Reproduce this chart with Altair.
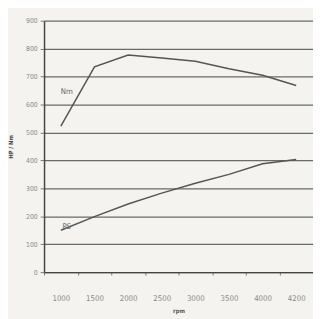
import altair as alt
import pandas as pd

rpm = ["1000", "1500", "2000", "2500", "3000", "3500", "4000", "4200"]
nm = [523, 735, 777, 767, 755, 728, 705, 668]
ps = [150, 199, 244, 283, 318, 350, 388, 403]
y_ticks = [0, 100, 200, 300, 400, 500, 600, 700, 800, 900]

label_text = ["Nm", "PS"]
label_rpm = ["1000", "1000"]
label_val = [645, 162]

df = pd.DataFrame({
    "rpm": rpm * 2,
    "value": nm + ps,
    "series": ["Nm"] * len(rpm) + ["PS"] * len(rpm),
})
lab = pd.DataFrame({"rpm": label_rpm, "value": label_val, "text": label_text})

FONT = "DejaVu Sans Condensed"

xscale = alt.Scale(type="band", domain=rpm, paddingInner=0, paddingOuter=0)
yscale = alt.Scale(domain=[0, 900], nice=False)

xaxis = alt.Axis(title="rpm", labelAngle=0, tickBand="extent", grid=False,
                 tickSize=3, labelPadding=20, labelFontSize=8, labelColor="#8a8a8a",
                 titleFontSize=6, titleColor="#555", titlePadding=5,
                 domainColor="#444", domainWidth=1.5, tickColor="#777",
                 labelFont=FONT, titleFont=FONT, labelOverlap=False)
yaxis = alt.Axis(title="HP / Nm", values=y_ticks, grid=True,
                 gridColor="#6a6a6a", gridWidth=1.3, tickSize=4, tickColor="#777",
                 domainColor="#444", domainWidth=1.5, labelFontSize=7, labelColor="#8a8a8a",
                 labelPadding=3, titleFontSize=6, titleColor="#444", titlePadding=12,
                 labelFont=FONT, titleFont=FONT, labelOverlap=False)

lines = alt.Chart(df).mark_line(color="#555555", strokeWidth=1.5).encode(
    x=alt.X("rpm:O", scale=xscale, bandPosition=0.5, axis=xaxis),
    y=alt.Y("value:Q", scale=yscale, axis=yaxis),
    detail="series:N",
)
texts = alt.Chart(lab).mark_text(color="#666", fontSize=8, dx=6, font=FONT).encode(
    x=alt.X("rpm:O", scale=xscale, bandPosition=0.5, axis=xaxis),
    y=alt.Y("value:Q", scale=yscale, axis=yaxis),
    text="text:N",
)

chart = (lines + texts).properties(
    width=276, height=258,
    autosize=alt.AutoSizeParams(type="none"),
    padding={"left": 37, "top": 9, "right": 0, "bottom": 44},
    background="#f4f3ef",
).configure_view(stroke=None)

chart.save("out.html", embed_options={"renderer": "svg", "actions": False})
